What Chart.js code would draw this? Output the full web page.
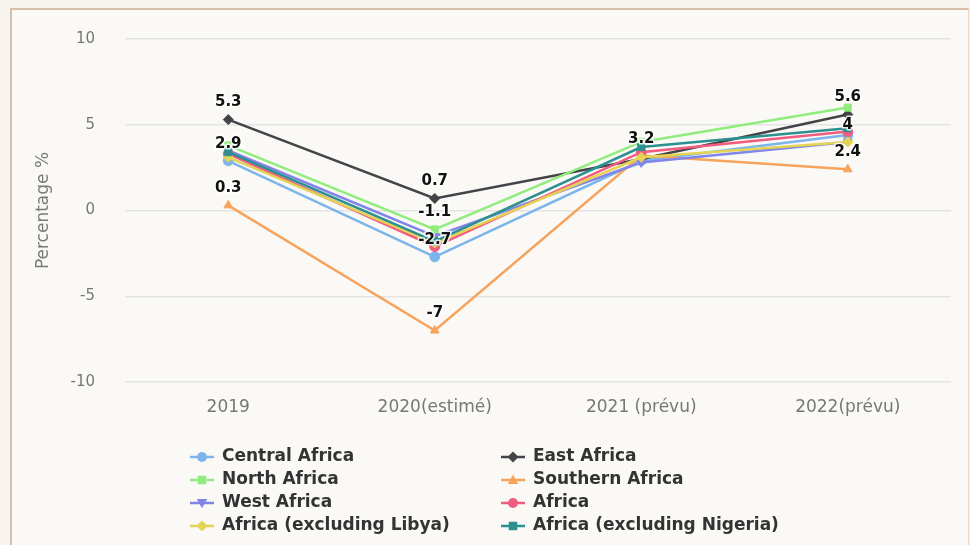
<!DOCTYPE html>
<html>
<head>
<meta charset="utf-8">
<script src="https://cdn.jsdelivr.net/npm/chart.js@4/dist/chart.umd.min.js"></script>
<style>
  html, body { margin: 0; padding: 0; background: #f7f4ef; }
  #wrap { position: relative; width: 970px; height: 545px; overflow: hidden; }
  #card {
    position: absolute; left: 10px; top: 8px; width: 956px; height: 560px;
    background: #fbf9f6;
    border-left: 2px solid #d8bea8; border-top: 2px solid #d8bea8; border-right: 1px solid #e8d9cb;
  }
  #c { position: absolute; left: 0; top: 0; }
</style>
</head>
<body>
<div id="wrap">
  <div id="card"></div>
  <canvas id="c" width="970" height="545"></canvas>
</div>
<script>
// Real GDP growth by region, %
const years = ['2019', '2020(estimé)', '2021 (prévu)', '2022(prévu)'];

const centralAfrica   = [2.9, -2.7, 2.9, 4.4];
const eastAfrica      = [5.3, 0.7, 3.0, 5.6];
const northAfrica     = [3.8, -1.1, 4.0, 6.0];
const southernAfrica  = [0.3, -7.0, 3.2, 2.4];
const westAfrica      = [3.5, -1.5, 2.8, 4.0];
const africa          = [3.3, -2.1, 3.4, 4.6];
const africaExLibya   = [3.1, -1.9, 3.1, 4.0];
const africaExNigeria = [3.4, -1.8, 3.7, 4.8];

const seriesNames = [
  'Central Africa', 'East Africa', 'North Africa', 'Southern Africa',
  'West Africa', 'Africa', 'Africa (excluding Libya)', 'Africa (excluding Nigeria)'
];
const seriesValues = [
  centralAfrica, eastAfrica, northAfrica, southernAfrica,
  westAfrica, africa, africaExLibya, africaExNigeria
];
const seriesColors = ['#7cb5ec', '#434348', '#90ed7d', '#f7a35c', '#8085e9', '#f15c80', '#e4d354', '#2b908f'];
const seriesMarkers = ['circle', 'rectRot', 'rect', 'triangle', 'triangle', 'circle', 'rectRot', 'rect'];
const seriesMarkerRotation = [0, 0, 0, 0, 180, 0, 0, 0];

// Value labels that are printed: [series index, category index]
const labelledPoints = [
  [1, 0], [0, 0], [3, 0],
  [1, 1], [2, 1], [0, 1], [3, 1],
  [3, 2],
  [1, 3], [4, 3], [3, 3]
];

const yTicks = [-10, -5, 0, 5, 10];

const FONT = '"DejaVu Sans", "Lucida Grande", Arial, sans-serif';

function drawMarker(ctx, style, rotation, r, x, y, color) {
  ctx.save();
  ctx.fillStyle = color;
  ctx.translate(x, y);
  ctx.rotate(rotation * Math.PI / 180);
  ctx.beginPath();
  if (style === 'circle') {
    ctx.arc(0, 0, r, 0, Math.PI * 2);
  } else if (style === 'rect') {
    ctx.rect(-r * 0.85, -r * 0.85, r * 1.7, r * 1.7);
  } else if (style === 'rectRot') {
    ctx.moveTo(0, -r * 1.1); ctx.lineTo(r * 1.1, 0); ctx.lineTo(0, r * 1.1); ctx.lineTo(-r * 1.1, 0);
    ctx.closePath();
  } else if (style === 'triangle') {
    ctx.moveTo(0, -r * 1.05); ctx.lineTo(r * 1.05, r * 0.8); ctx.lineTo(-r * 1.05, r * 0.8);
    ctx.closePath();
  }
  ctx.fill();
  ctx.restore();
}

// Y axis title
const axisTitlePlugin = {
  id: 'axisTitle',
  afterDraw(chart) {
    const ctx = chart.ctx;
    const a = chart.chartArea;
    ctx.save();
    ctx.translate(44, (a.top + a.bottom) / 2);
    ctx.rotate(-Math.PI / 2);
    ctx.font = '17px ' + FONT;
    ctx.fillStyle = '#7a7a7a';
    ctx.textAlign = 'center';
    ctx.textBaseline = 'middle';
    ctx.fillText('Percentage %', 0, 0);
    ctx.restore();
  }
};

// Value labels above selected points
const valueLabelPlugin = {
  id: 'valueLabels',
  afterDatasetsDraw(chart) {
    const ctx = chart.ctx;
    ctx.save();
    ctx.font = 'bold 15px ' + FONT;
    ctx.textAlign = 'center';
    ctx.textBaseline = 'middle';
    ctx.lineJoin = 'round';
    labelledPoints.forEach(([s, i]) => {
      const pt = chart.getDatasetMeta(s).data[i];
      const txt = String(seriesValues[s][i]);
      const y = pt.y - 17;
      ctx.strokeStyle = 'rgba(255,255,255,0.85)';
      ctx.lineWidth = 3;
      ctx.strokeText(txt, pt.x, y);
      ctx.fillStyle = '#111';
      ctx.fillText(txt, pt.x, y);
    });
    ctx.restore();
  }
};

// Two-column legend below the plot
const legendPlugin = {
  id: 'twoColLegend',
  afterDraw(chart) {
    const ctx = chart.ctx;
    const colX = [190, 501];
    const rowY0 = 457, rowH = 23;
    ctx.save();
    seriesNames.forEach((name, i) => {
      const x = colX[i % 2];
      const y = rowY0 + Math.floor(i / 2) * rowH;
      ctx.strokeStyle = seriesColors[i];
      ctx.lineWidth = 2.5;
      ctx.beginPath();
      ctx.moveTo(x, y); ctx.lineTo(x + 24, y);
      ctx.stroke();
      drawMarker(ctx, seriesMarkers[i], seriesMarkerRotation[i], 5, x + 12, y, seriesColors[i]);
      ctx.font = 'bold 17px ' + FONT;
      ctx.fillStyle = '#333';
      ctx.textAlign = 'left';
      ctx.textBaseline = 'middle';
      ctx.fillText(name, x + 32, y);
    });
    ctx.restore();
  }
};

const n = seriesNames.length;
const datasets = seriesNames.map((name, i) => ({
  label: name,
  data: seriesValues[i],
  borderColor: seriesColors[i],
  backgroundColor: seriesColors[i],
  borderWidth: 2.5,
  pointStyle: seriesMarkers[i],
  pointRotation: seriesMarkerRotation[i],
  pointRadius: 5,
  pointBorderWidth: 1,
  tension: 0,
  order: n - i
}));

new Chart(document.getElementById('c'), {
  type: 'line',
  data: { labels: years, datasets },
  options: {
    responsive: false,
    animation: false,
    devicePixelRatio: 1,
    layout: { padding: { left: 0, right: 19, top: 38, bottom: 0 } },
    plugins: {
      legend: { display: false },
      tooltip: { enabled: false }
    },
    scales: {
      x: {
        type: 'category',
        offset: true,
        grid: { display: false, drawTicks: false },
        border: { display: false },
        ticks: { color: '#777', font: { family: FONT, size: 17 }, padding: 15, maxRotation: 0 },
        afterFit(s) { s.height = 163; }
      },
      y: {
        min: -10, max: 10,
        afterBuildTicks(s) { s.ticks = yTicks.map(v => ({ value: v })); },
        grid: { color: '#e4e4e4', lineWidth: 1.5, drawTicks: false },
        border: { display: false },
        ticks: {
          color: '#777', font: { family: FONT, size: 15 }, padding: 30,
          callback: v => String(v)
        },
        afterFit(s) { s.width = 125; }
      }
    }
  },
  plugins: [axisTitlePlugin, valueLabelPlugin, legendPlugin]
});
</script>
</body>
</html>
